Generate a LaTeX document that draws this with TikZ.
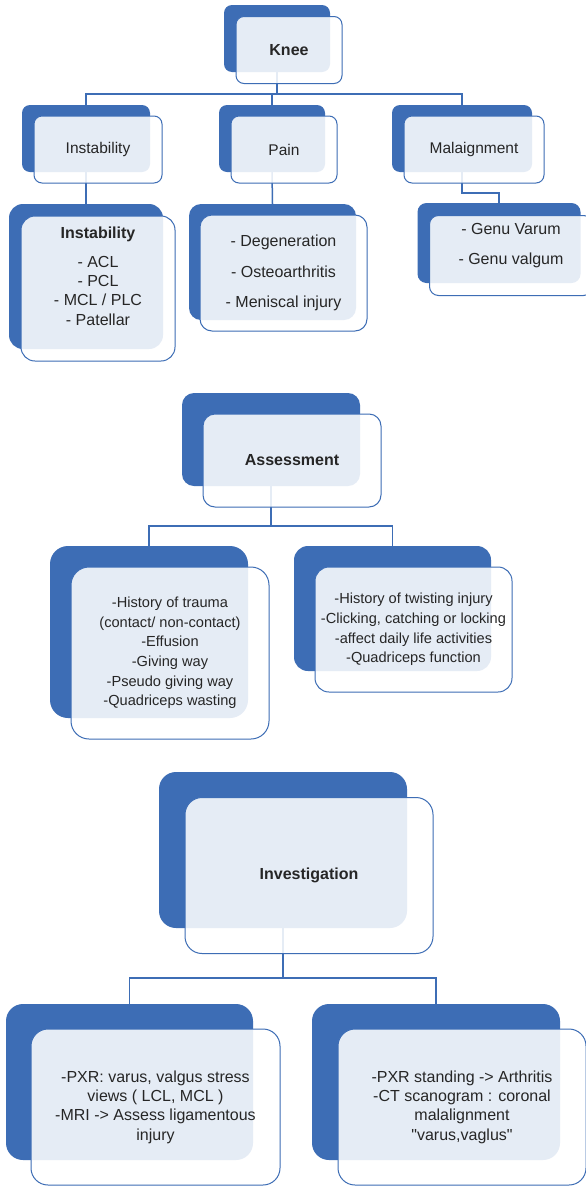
\documentclass[tikz,border=0pt]{standalone}
\usepackage{fontspec}
\setmainfont{Liberation Sans}[Ligatures=TeXOff]
\definecolor{kblue}{HTML}{3D6DB5}
\definecolor{ktext}{HTML}{262626}
\tikzset{
  backbox/.style={fill=kblue, rounded corners=#1, inner sep=0pt},
  backbox/.default=8pt,
  frontbox/.style={draw=kblue, line width=1pt, fill=white, fill opacity=.87,
    text opacity=1, text=ktext, rounded corners=#1, align=center, inner sep=2pt,
    font=\fontsize{16}{19.3}\selectfont},
  frontbox/.default=8pt,
  link/.style={draw=kblue, line width=1.5pt}
}

\begin{document}
\begin{tikzpicture}[x=1pt, y=-1pt]
\path[use as bounding box, fill=white] (0,0) rectangle (586,1186);
% back boxes
\node[backbox, minimum width=106pt, minimum height=67pt] (knee) at (277,38.5) {}; %Knee
\node[backbox, minimum width=128pt, minimum height=67pt] (instab) at (86,138.5) {};
\node[backbox, minimum width=106pt, minimum height=67pt] (pain) at (272,138.5) {};
\node[backbox, minimum width=140pt, minimum height=67pt] (malign) at (462,138.5) {};
\node[backbox=14pt, minimum width=154pt, minimum height=145pt] (instabd) at (86,276.5) {};
\node[backbox=12pt, minimum width=167pt, minimum height=116pt] (paind) at (272.5,262) {};
\node[backbox=9pt, minimum width=163pt, minimum height=80pt] (genu) at (499,243) {};
\node[backbox=12pt, minimum width=178pt, minimum height=93pt] (assess) at (271,439.5) {}; %Assessment
\node[backbox=18pt, minimum width=198pt, minimum height=172pt] (history) at (149,632) {};
\node[backbox=14pt, minimum width=197pt, minimum height=125pt] (twist) at (392.5,608.5) {};
\node[backbox=17pt, minimum width=248pt, minimum height=156pt] (invest) at (283,850) {}; %Investigation
\node[backbox=17pt, minimum width=247pt, minimum height=156pt] (pxr) at (129.5,1082) {};
\node[backbox=17pt, minimum width=248pt, minimum height=156pt] (ct) at (436,1082) {};
% connectors
\coordinate (kbus) at (277,94);
\coordinate (abus) at (271,526);
\coordinate (ibus) at (283,978);
\draw[link] (knee.south) -- (kbus);
\draw[link] (instab.north) |- (kbus) -| (malign.north);
\draw[link] (pain.north) -- (pain.north |- kbus);
\draw[link] (instab.south) -- (instabd.north);
\draw[link] (pain.south) -- (paind.north);
\draw[link] (malign.south) -- ++(0,21) -| (genu.north);
\draw[link] (assess.south) -- (abus);
\draw[link] (history.north) |- (abus) -| (twist.north);
\draw[link] (invest.south) -- (ibus);
\draw[link] (pxr.north) |- (ibus) -| (ct.north);
% front boxes
\node[frontbox, minimum width=106pt, minimum height=67pt] (kneetxt) at ([shift={(12,11.5)}]knee.center) {\textbf{Knee}};
\node[frontbox, minimum width=128pt, minimum height=67pt, font=\fontsize{15.5}{19}\selectfont] (instabtxt) at ([shift={(12,11)}]instab.center) {Instability};
\node[frontbox, minimum width=106pt, minimum height=67pt, font=\fontsize{15.5}{19}\selectfont] (paintxt) at ([shift={(12,11)}]pain.center) {Pain};
\node[frontbox, minimum width=140pt, minimum height=67pt, font=\fontsize{15.5}{19}\selectfont] (maligntxt) at ([shift={(12,11)}]malign.center) {Malaignment};
\node[frontbox=14pt, minimum width=154pt, minimum height=145pt] (instabdtxt) at ([shift={(12,12)}]instabd.center)
  {\textbf{Instability}\\[10pt]- ACL\\- PCL\\- MCL / PLC\\- Patellar\\[6pt]\mbox{}};
\node[frontbox=12pt, minimum width=167pt, minimum height=116pt] (paindtxt) at ([shift={(11,11)}]paind.center)
  {- Degeneration\\[11.5pt]- Osteoarthritis\\[11.5pt]- Meniscal injury};
\node[frontbox=9pt, minimum width=163pt, minimum height=80pt] (genutxt) at ([shift={(12,12.5)}]genu.center)
  {- Genu Varum\\[11pt]- Genu valgum\\[4pt]\mbox{}};
\node[frontbox=12pt, minimum width=178pt, minimum height=93pt] (assesstxt) at ([shift={(21,21)}]assess.center) {\textbf{Assessment}};
\node[frontbox=18pt, minimum width=198pt, minimum height=172pt, font=\fontsize{14.6}{19.6}\selectfont] (historytxt) at ([shift={(21,21)}]history.center)
  {-History of trauma\\(contact/ non-contact)\\-Effusion\\-Giving way\\-Pseudo giving way\\-Quadriceps wasting};
\node[frontbox=14pt, minimum width=197pt, minimum height=125pt, font=\fontsize{14.6}{19.6}\selectfont] (twisttxt) at ([shift={(21,21)}]twist.center)
  {-History of twisting injury\\-Clicking, catching or locking\\-affect daily life activities\\-Quadriceps function};
\node[frontbox=17pt, minimum width=248pt, minimum height=156pt] (investtxt) at ([shift={(26,25.5)}]invest.center) {\textbf{Investigation}};
\node[frontbox=17pt, minimum width=249pt, minimum height=156pt] (pxrtxt) at ([shift={(26,25)}]pxr.center)
  {-PXR: varus, valgus stress\\views ( LCL, MCL )\\-MRI -> Assess ligamentous\\injury};
\node[frontbox=17pt, minimum width=248pt, minimum height=156pt] (cttxt) at ([shift={(26,25)}]ct.center)
  {-PXR standing -> Arthritis\\-CT scanogram : coronal\\malalignment\\"varus,vaglus"};
\end{tikzpicture}
\end{document}
